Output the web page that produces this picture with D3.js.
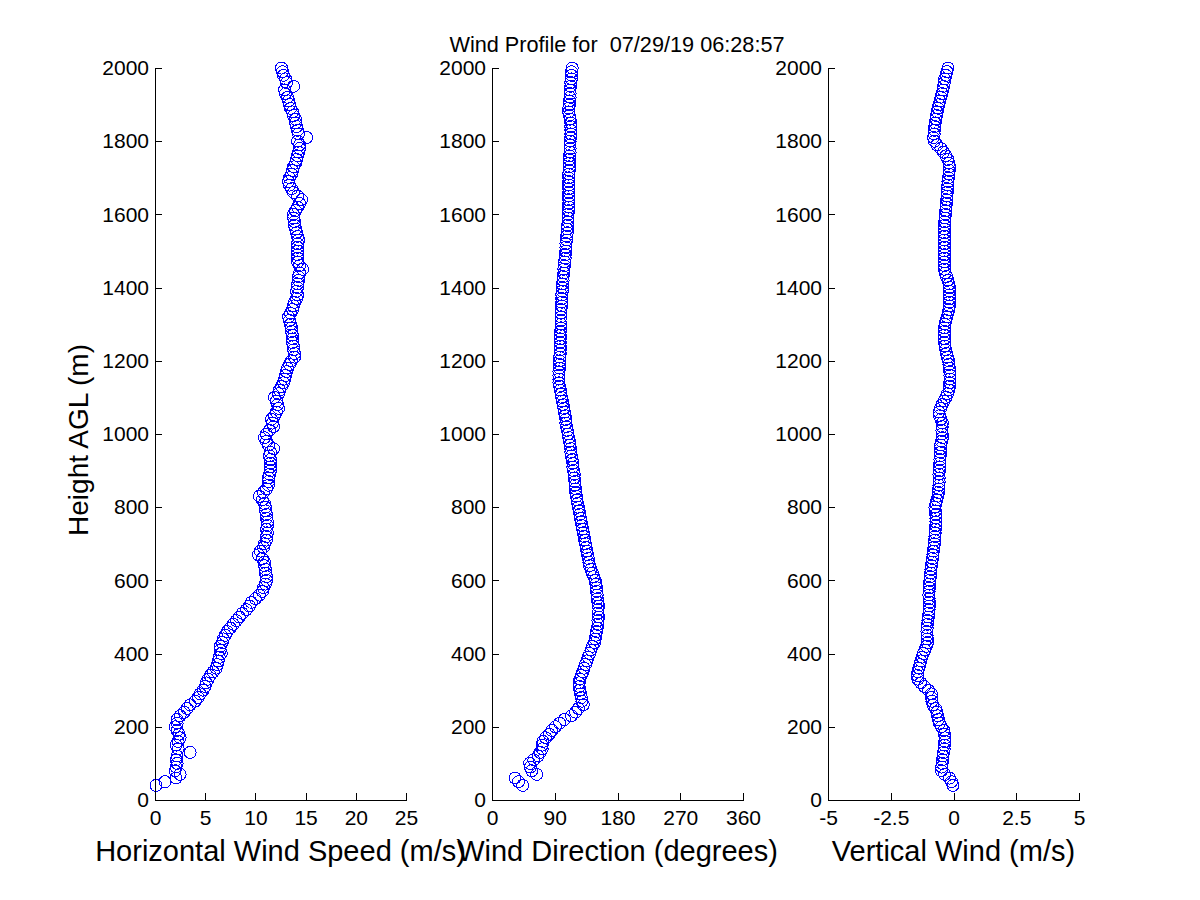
<!DOCTYPE html>
<html>
<head>
<meta charset="utf-8">
<script src="https://cdn.jsdelivr.net/npm/d3@7"></script>
<style>
  body { margin: 0; background: #fff; }
  svg { display: block; font-family: "Liberation Sans", Arial, Helvetica, sans-serif; }
</style>
</head>
<body>
<div id="chart"></div>
<script>
// range gate heights (m AGL)
var heights = [
  40, 50, 60, 70, 80, 90, 100, 110, 120, 130,
  140, 150, 160, 170, 180, 190, 200, 210, 220, 230,
  240, 250, 260, 270, 280, 290, 300, 310, 320, 330,
  340, 350, 360, 370, 380, 390, 400, 410, 420, 430,
  440, 450, 460, 470, 480, 490, 500, 510, 520, 530,
  540, 550, 560, 570, 580, 590, 600, 610, 620, 630,
  640, 650, 660, 670, 680, 690, 700, 710, 720, 730,
  740, 750, 760, 770, 780, 790, 800, 810, 820, 830,
  840, 850, 860, 870, 880, 890, 900, 910, 920, 930,
  940, 950, 960, 970, 980, 990, 1000, 1010, 1020, 1030,
  1040, 1050, 1060, 1070, 1080, 1090, 1100, 1110, 1120, 1130,
  1140, 1150, 1160, 1170, 1180, 1190, 1200, 1210, 1220, 1230,
  1240, 1250, 1260, 1270, 1280, 1290, 1300, 1310, 1320, 1330,
  1340, 1350, 1360, 1370, 1380, 1390, 1400, 1410, 1420, 1430,
  1440, 1450, 1460, 1470, 1480, 1490, 1500, 1510, 1520, 1530,
  1540, 1550, 1560, 1570, 1580, 1590, 1600, 1610, 1620, 1630,
  1640, 1650, 1660, 1670, 1680, 1690, 1700, 1710, 1720, 1730,
  1740, 1750, 1760, 1770, 1780, 1790, 1800, 1810, 1820, 1830,
  1840, 1850, 1860, 1870, 1880, 1890, 1900, 1910, 1920, 1930,
  1940, 1950, 1960, 1970, 1980, 1990, 2000
];

// horizontal wind speed (m/s)
var windSpeed = [
  0.1, 1.0, 2.1, 2.5, 2.0, 2.1, 2.2, 2.1, 2.2, 3.5,
  2.3, 2.1, 2.3, 2.5, 2.4, 2.2, 2.0, 2.2, 2.2, 2.5,
  2.9, 3.2, 3.5, 4.0, 4.3, 4.5, 4.8, 5.0, 5.1, 5.3,
  5.5, 5.8, 6.1, 6.2, 6.3, 6.4, 6.6, 6.5, 6.5, 6.7,
  6.8, 7.0, 7.2, 7.5, 7.8, 8.1, 8.4, 8.7, 9.1, 9.4,
  9.6, 10.0, 10.4, 10.7, 10.8, 11.0, 11.1, 11.1, 11.0, 11.0,
  10.9, 10.9, 10.7, 10.3, 10.5, 10.8, 10.9, 11.1, 11.1, 11.2,
  11.1, 11.2, 11.2, 11.1, 11.1, 11.0, 11.0, 10.9, 10.7, 10.4,
  10.8, 11.1, 11.3, 11.3, 11.3, 11.4, 11.5, 11.5, 11.5, 11.5,
  11.4, 11.5, 11.8, 11.3, 11.1, 10.9, 11.1, 11.4, 11.8, 11.7,
  11.6, 11.9, 12.1, 12.3, 12.2, 12.1, 11.9, 12.3, 12.4, 12.6,
  12.8, 12.9, 13.0, 13.1, 13.2, 13.4, 13.6, 13.9, 13.9, 13.8,
  13.8, 13.7, 13.7, 13.7, 13.6, 13.6, 13.5, 13.4, 13.3, 13.5,
  13.7, 13.8, 13.9, 14.1, 14.2, 14.1, 14.2, 14.2, 14.3, 14.3,
  14.4, 14.7, 14.4, 14.2, 14.2, 14.2, 14.2, 14.2, 14.2, 14.3,
  14.2, 14.1, 14.0, 13.9, 13.9, 13.8, 13.8, 14.0, 14.2, 14.4,
  14.6, 14.2, 13.8, 13.6, 13.4, 13.3, 13.4, 13.6, 13.7, 13.8,
  14.0, 14.1, 14.2, 14.3, 14.4, 14.4, 14.2, 15.1, 14.3, 14.2,
  14.1, 14.0, 14.0, 13.8, 13.7, 13.5, 13.4, 13.3, 13.2, 13.0,
  12.9, 13.8, 13.1, 13.0, 12.8, 12.7, 12.6
];

// wind direction (degrees)
var windDir = [
  44, 38, 33, 64, 57, 55, 54, 60, 66, 69,
  72, 72, 73, 77, 82, 86, 91, 97, 104, 114,
  120, 124, 131, 129, 128, 127, 126, 125, 125, 126,
  128, 130, 132, 134, 136, 138, 140, 142, 144, 147,
  148, 149, 150, 151, 152, 152, 153, 152, 152, 153,
  152, 151, 151, 150, 150, 149, 148, 146, 144, 142,
  140, 139, 138, 137, 136, 135, 134, 133, 132, 131,
  130, 129, 128, 127, 126, 125, 124, 123, 122, 121,
  120, 120, 119, 119, 118, 118, 117, 116, 116, 115,
  114, 113, 113, 112, 111, 110, 109, 108, 107, 106,
  106, 105, 104, 103, 102, 101, 100, 99, 98, 97,
  96, 96, 96, 96, 97, 97, 97, 97, 98, 98,
  98, 98, 98, 98, 98, 99, 99, 99, 99, 99,
  99, 100, 100, 100, 100, 101, 101, 101, 102, 102,
  103, 103, 104, 104, 105, 105, 106, 106, 106, 107,
  107, 108, 108, 108, 109, 109, 109, 110, 110, 110,
  110, 110, 110, 110, 110, 110, 110, 110, 111, 111,
  111, 111, 111, 112, 112, 112, 112, 113, 113, 113,
  113, 113, 112, 111, 110, 110, 111, 111, 112, 112,
  112, 113, 113, 114, 114, 114, 115
];

// vertical wind (m/s)
var vertWind = [
  -0.02, -0.08, -0.16, -0.35, -0.48, -0.47, -0.45, -0.44, -0.42, -0.40,
  -0.37, -0.36, -0.35, -0.34, -0.36, -0.38, -0.48, -0.56, -0.60, -0.63,
  -0.66, -0.72, -0.82, -0.86, -0.88, -0.88, -1.00, -1.16, -1.30, -1.42,
  -1.44, -1.42, -1.38, -1.34, -1.30, -1.26, -1.20, -1.14, -1.08, -1.04,
  -1.04, -1.05, -1.06, -1.05, -1.04, -1.02, -1.00, -0.98, -0.97, -0.96,
  -0.96, -0.97, -0.98, -0.97, -0.96, -0.96, -0.94, -0.92, -0.91, -0.90,
  -0.88, -0.86, -0.84, -0.82, -0.80, -0.78, -0.76, -0.75, -0.74, -0.73,
  -0.72, -0.71, -0.70, -0.70, -0.71, -0.72, -0.74, -0.70, -0.66, -0.62,
  -0.60, -0.59, -0.58, -0.57, -0.57, -0.58, -0.56, -0.55, -0.55, -0.54,
  -0.53, -0.52, -0.52, -0.51, -0.48, -0.44, -0.45, -0.46, -0.45, -0.44,
  -0.50, -0.56, -0.58, -0.52, -0.46, -0.38, -0.30, -0.24, -0.18, -0.16,
  -0.15, -0.14, -0.14, -0.15, -0.16, -0.18, -0.20, -0.24, -0.28, -0.31,
  -0.34, -0.36, -0.36, -0.36, -0.36, -0.36, -0.34, -0.30, -0.26, -0.22,
  -0.18, -0.16, -0.16, -0.16, -0.16, -0.16, -0.16, -0.18, -0.22, -0.28,
  -0.33, -0.36, -0.36, -0.36, -0.36, -0.36, -0.36, -0.36, -0.36, -0.36,
  -0.36, -0.36, -0.36, -0.36, -0.35, -0.34, -0.32, -0.31, -0.30, -0.28,
  -0.27, -0.26, -0.25, -0.24, -0.23, -0.22, -0.20, -0.18, -0.17, -0.16,
  -0.18, -0.22, -0.30, -0.40, -0.50, -0.66, -0.76, -0.80, -0.77, -0.76,
  -0.75, -0.73, -0.70, -0.68, -0.65, -0.62, -0.58, -0.54, -0.50, -0.46,
  -0.42, -0.40, -0.37, -0.35, -0.30, -0.26, -0.22
];

var heightTicks = [0, 200, 400, 600, 800, 1000, 1200, 1400, 1600, 1800, 2000];
var speedTicks = [0, 5, 10, 15, 20, 25];
var dirTicks = [0, 90, 180, 270, 360];
var vertTicks = [-5, -2.5, 0, 2.5, 5];

var titleText = "Wind Profile for  07/29/19 06:28:57";

var width = 1200, height = 900;
var svg = d3.select("#chart").append("svg")
  .attr("width", width).attr("height", height);

var y = d3.scaleLinear().domain([0, 2000]).range([800, 68]);

var panels = [
  { values: windSpeed, domain: [0, 25], ticks: speedTicks, left: 155, label: "Horizontal Wind Speed (m/s)" },
  { values: windDir, domain: [0, 360], ticks: dirTicks, left: 492, label: "Wind Direction (degrees)" },
  { values: vertWind, domain: [-5, 5], ticks: vertTicks, left: 828, label: "Vertical Wind (m/s)" }
];
var panelWidth = 251;

panels.forEach(function (p) {
  var x = d3.scaleLinear().domain(p.domain).range([p.left, p.left + panelWidth]);

  // markers
  svg.append("g").selectAll("circle")
    .data(heights.map(function (h, i) { return [p.values[i], h]; }))
    .enter().append("circle")
    .attr("cx", function (d) { return x(d[0]); })
    .attr("cy", function (d) { return y(d[1]); })
    .attr("r", 6)
    .attr("fill", "none")
    .attr("stroke", "#0000ff")
    .attr("stroke-width", 1)
    .attr("shape-rendering", "crispEdges");

  var yAxis = d3.axisLeft(y).tickValues(heightTicks)
    .tickFormat(d3.format("d"))
    .tickSizeInner(-7).tickSizeOuter(0).tickPadding(6);
  var gy = svg.append("g").attr("transform", "translate(" + p.left + ",0)").call(yAxis);

  var xAxis = d3.axisBottom(x).tickValues(p.ticks)
    .tickFormat(function (d) { return String(d); })
    .tickSizeInner(-7).tickSizeOuter(0).tickPadding(10);
  var gx = svg.append("g").attr("transform", "translate(0,800)").call(xAxis);

  [gx, gy].forEach(function (g) {
    g.selectAll("path, line").attr("stroke", "#000").attr("shape-rendering", "crispEdges");
    g.selectAll("text").attr("fill", "#000").style("font-size", "21px");
    g.attr("font-family", null).attr("font-size", null);
  });

  svg.append("text")
    .attr("x", p.left + panelWidth / 2)
    .attr("y", 861)
    .attr("text-anchor", "middle")
    .style("font-size", "29px")
    .text(p.label);
});

svg.append("text")
  .attr("transform", "translate(88,440) rotate(-90)")
  .attr("text-anchor", "middle")
  .style("font-size", "28px")
  .text("Height AGL (m)");

svg.append("text")
  .attr("x", 617)
  .attr("y", 52)
  .attr("text-anchor", "middle")
  .style("font-size", "21.7px")
  .style("white-space", "pre")
  .text(titleText);
</script>
</body>
</html>
